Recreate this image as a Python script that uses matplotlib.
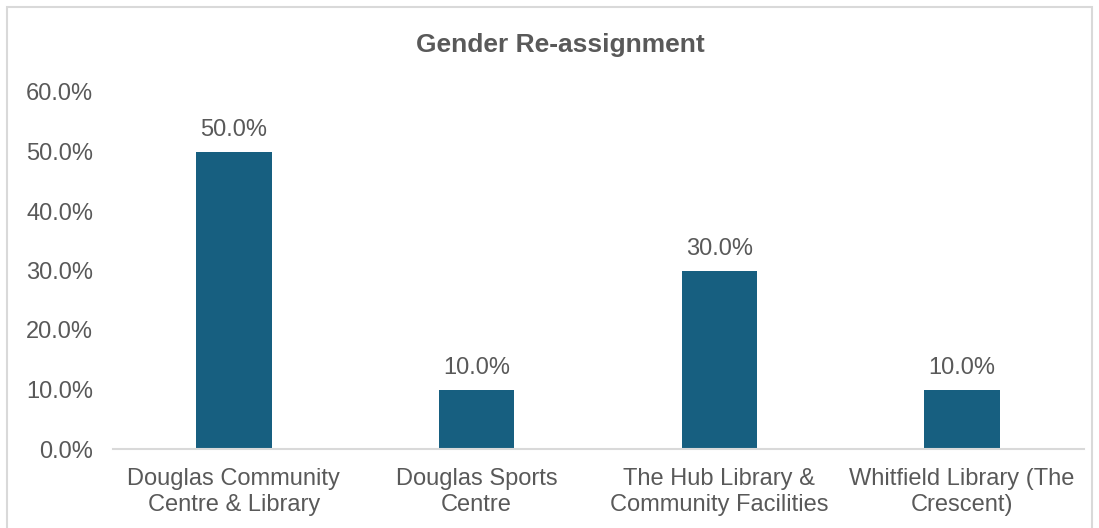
import matplotlib.pyplot as plt
from matplotlib.patches import Rectangle
from matplotlib.ticker import FuncFormatter

plt.rcParams['font.family'] = ['Liberation Sans', 'DejaVu Sans']

categories = ["Douglas Community\nCentre & Library", "Douglas Sports\nCentre",
              "The Hub Library &\nCommunity Facilities", "Whitfield Library (The\nCrescent)"]
values = [50.0, 10.0, 30.0, 10.0]
yticks = [0, 10, 20, 30, 40, 50, 60]

BAR_COLOR = "#175F80"
TEXT_COLOR = "#595959"

fig = plt.figure(figsize=(10.99, 5.28), dpi=100)
ax = fig.add_axes([112.5 / 1099, 1 - 449 / 528, 971 / 1099, 357 / 528])

# outer chart border
fig.patches.append(Rectangle((7 / 1099, -0.01), 1085 / 1099, 1 - 7 / 528 + 0.01,
                             transform=fig.transFigure, fill=False,
                             edgecolor="#D9D9D9", linewidth=1.5))

x = range(len(categories))
bars = ax.bar(x, values, width=0.31, color=BAR_COLOR)
for b, v in zip(bars, values):
    ax.text(b.get_x() + b.get_width() / 2, v + 1.8, f"{v:.1f}%", ha="center", va="bottom",
            fontsize=17, color=TEXT_COLOR)

ax.set_xlim(-0.5, len(categories) - 0.5)
ax.set_ylim(0, 60)
ax.set_yticks(yticks)
ax.yaxis.set_major_formatter(FuncFormatter(lambda v, p: f"{v:.1f}%"))
ax.set_xticks(list(x))
ax.set_xticklabels(categories, linespacing=1.18)

for s in ["top", "right", "left"]:
    ax.spines[s].set_visible(False)
ax.spines["bottom"].set_color("#D9D9D9")
ax.spines["bottom"].set_linewidth(1.5)
ax.tick_params(axis="both", length=0, labelsize=17, labelcolor=TEXT_COLOR)
ax.tick_params(axis="y", pad=14)
ax.tick_params(axis="x", pad=14)

fig.text(560 / 1099, 1 - 45 / 528, "Gender Re-assignment", ha="center", va="center",
         fontsize=19, fontweight="bold", color=TEXT_COLOR)

fig.savefig("out.png", dpi=100)
